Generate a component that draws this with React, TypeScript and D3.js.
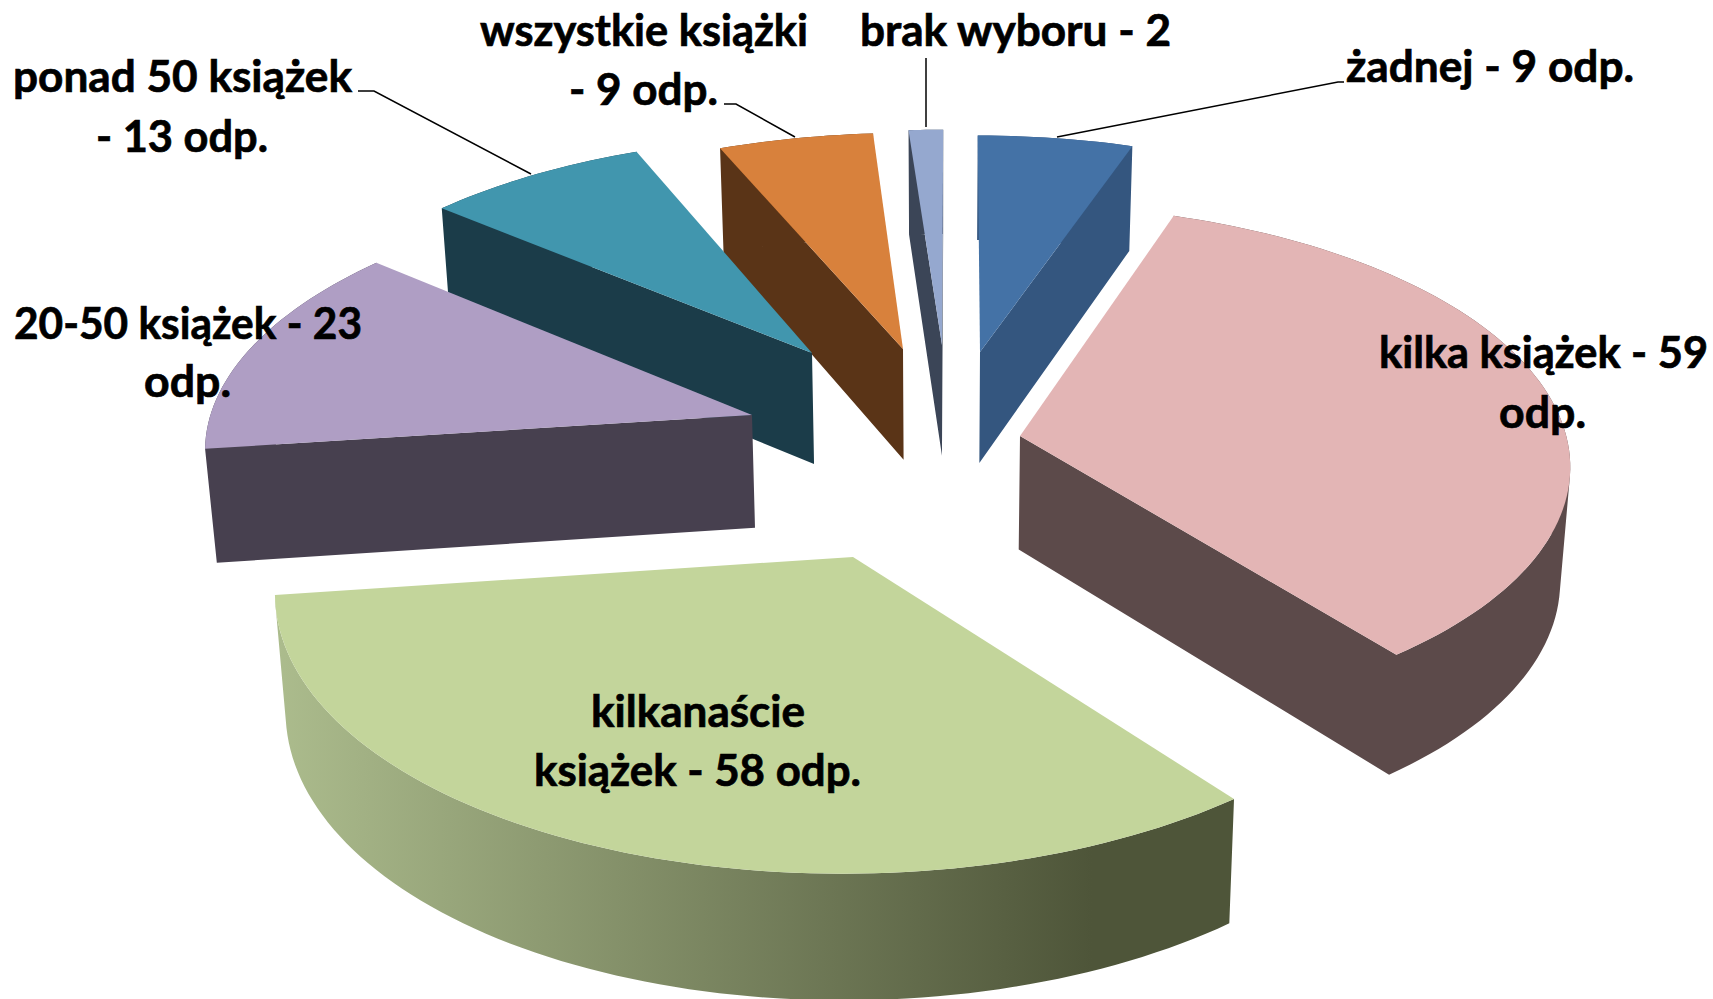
import React from "react";
import * as d3 from "d3";

// --- data ---
const categories = ["żadnej", "kilka książek", "kilkanaście książek", "20-50 książek", "ponad 50 książek", "wszystkie książki", "brak wyboru"];
const responses = [9, 59, 58, 23, 13, 9, 2];

// --- styles / layout (not data) ---
const topColors = ["#4472a6", "#e3b5b5", "#c3d59b", "#af9ec4", "#4196ae", "#d8813c", "#95a8cf"];
const sideColors = ["#34567f", "#5c4a4a", "url(#wallGreen)", "#47404f", "#1b3c49", "#5a3417", "#3b4557"];
const apexes: [number, number][] = [[980, 352], [1020, 436], [853, 557], [752, 415], [812, 353], [903, 349], [942, 345]];
const paintOrder = [6, 0, 5, 4, 3, 1, 2];

const W = 1713, H = 999;
const Cx = 939.6, Cy = 437, S = 546.5, T = 256, P = 0.105;
const DEPTH = 113.5, DEPTH_K = 0.03, BOTTOM_SHRINK = 0.984;
const TURN = 0.003;

type Pt = [number, number];
const project = (X: number, Y: number): Pt => {
  const w = 1 / (1 - P * Y);
  return [Cx + S * X * w, Cy + T * Y * w];
};
const unproject = ([sx, sy]: Pt): Pt => {
  const t = (sy - Cy) / T;
  const Y = t / (1 + P * t);
  const w = 1 + P * t;
  return [(sx - Cx) / (S * w), Y];
};
const lower = ([x, y]: Pt): Pt => [Cx + BOTTOM_SHRINK * (x - Cx), y + DEPTH + (y - Cy) * DEPTH_K];

const closed = d3.line<Pt>().curve(d3.curveLinearClosed);
const open = d3.line<Pt>();
// Same winding for every quad, so that one path with nonzero fill is their union, with no seams.
const wound = (q: Pt[]): string => closed(d3.polygonArea(q) < 0 ? [...q].reverse() : q)!;

const arcs = d3.pie<number>().sort(null).startAngle(TURN).endAngle(TURN + 2 * Math.PI).value((d) => d)(responses);

const slices = arcs.map((a, i) => {
  const [X0, Y0] = unproject(apexes[i]);
  const at = (ang: number): Pt => project(X0 + Math.sin(ang), Y0 - Math.cos(ang));
  const steps = Math.max(6, Math.ceil((a.endAngle - a.startAngle) * 40));
  const angle = d3.scaleLinear().domain([0, steps]).range([a.startAngle, a.endAngle]);
  const rim = d3.range(steps + 1).map((k) => at(angle(k)));
  const apex = project(X0, Y0);
  const top = closed([apex, ...rim]);
  const quads: string[] = d3.range(steps).map((k) =>
    wound([rim[k], rim[k + 1], lower(rim[k + 1]), lower(rim[k])])
  );
  if (Math.sin(a.startAngle) < 0) quads.push(wound([apex, rim[0], lower(rim[0]), lower(apex)]));
  if (Math.sin(a.endAngle) > 0) quads.push(wound([apex, rim[steps], lower(rim[steps]), lower(apex)]));
  return { top, side: quads.join(""), top_c: topColors[i], side_c: sideColors[i] };
});

const labelLines = [
  { t: "żadnej - 9 odp.", x: 1346, y: 82, w: 288 },
  { t: "brak wyboru - 2", x: 860, y: 46, w: 311 },
  { t: "wszystkie książki", x: 480, y: 46, w: 328 },
  { t: "- 9 odp.", x: 569, y: 105, w: 149 },
  { t: "ponad 50 książek", x: 13, y: 92, w: 339 },
  { t: "- 13 odp.", x: 96, y: 152, w: 172 },
  { t: "20-50 książek - 23", x: 14, y: 339, w: 348 },
  { t: "odp.", x: 144, y: 397, w: 87 },
  { t: "kilka książek - 59", x: 1379, y: 368, w: 329 },
  { t: "odp.", x: 1499, y: 428, w: 87 },
  { t: "kilkanaście", x: 591, y: 727, w: 214 },
  { t: "książek - 58 odp.", x: 534, y: 786, w: 327 },
];

const leaders: Pt[][] = [
  [[1057, 137], [1338, 82], [1344, 82]],
  [[926, 127], [926, 58]],
  [[795, 137], [736, 104], [724, 104]],
  [[531, 174], [374, 91], [358, 91]],
];

export default function App() {
  return (
    <svg
      width={W}
      height={H}
      viewBox={`0 0 ${W} ${H}`}
      style={{ position: "fixed", left: 0, top: 0, background: "#fff" }}
    >
      <defs>
        <linearGradient id="wallGreen" gradientUnits="userSpaceOnUse" x1={275} y1={0} x2={1092} y2={0}>
          <stop offset="0" stopColor="#acbc8d" />
          <stop offset="1" stopColor="#4e5539" />
        </linearGradient>
      </defs>
      {paintOrder.map((i) => {
        const s = slices[i];
        return (
          <g key={categories[i]}>
            <path d={s.side} fill={s.side_c} fillRule="nonzero" />
            <path d={s.top!} fill={s.top_c} />
          </g>
        );
      })}
      {leaders.map((l, i) => (
        <path key={i} d={open(l)!} fill="none" stroke="#000" strokeWidth={1.5} />
      ))}
      {labelLines.map((l, i) => (
        <text
          key={i}
          x={l.x}
          y={l.y}
          textLength={l.w}
          lengthAdjust="spacingAndGlyphs"
          fontFamily="Lato, 'Open Sans', sans-serif"
          fontWeight={700}
          fontSize={44}
          fill="#000"
          stroke="#000"
          strokeWidth={0.7}
        >
          {l.t}
        </text>
      ))}
    </svg>
  );
}
